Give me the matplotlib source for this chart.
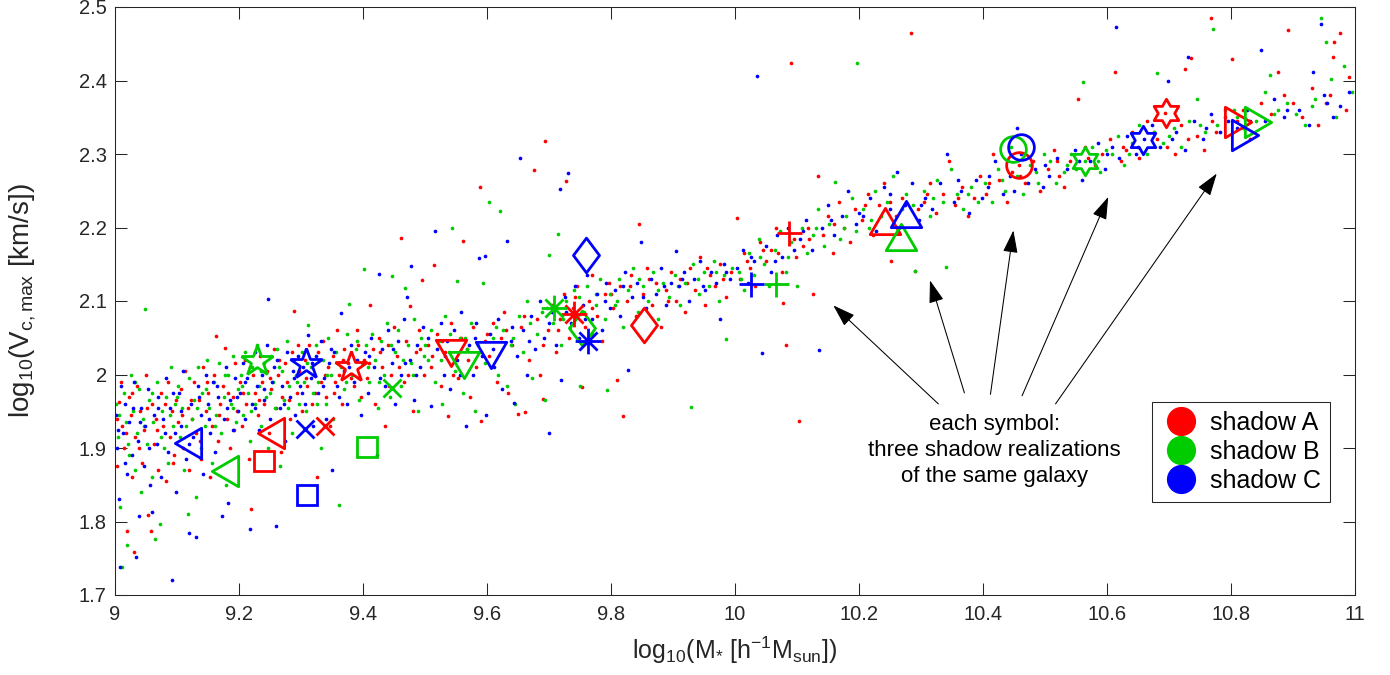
import numpy as np
import matplotlib
matplotlib.use('Agg')
import matplotlib.pyplot as plt
from matplotlib.path import Path
from matplotlib.lines import Line2D
from matplotlib.ticker import FuncFormatter, FixedLocator

plt.rcParams['font.family'] = ['Liberation Sans', 'DejaVu Sans']
plt.rcParams['mathtext.fontset'] = 'custom'
plt.rcParams['mathtext.rm'] = 'Liberation Sans'
plt.rcParams['mathtext.it'] = 'Liberation Sans'
plt.rcParams['mathtext.bf'] = 'Liberation Sans:bold'

# ---------------- data ----------------
x_ticks = [9, 9.2, 9.4, 9.6, 9.8, 10, 10.2, 10.4, 10.6, 10.8, 11]
y_ticks = [1.7, 1.8, 1.9, 2.0, 2.1, 2.2, 2.3, 2.4, 2.5]
shadow_labels = ['shadow A', 'shadow B', 'shadow C']

red_dots = [
 (9.003,1.875),(9.006,1.962),(9.010,1.99),(9.012,1.93),(9.015,1.9),(9.019,1.787),(9.022,1.97),(9.025,1.945),(9.028,1.86),(9.030,1.758),
 (9.033,1.915),(9.036,1.985),(9.040,1.95),(9.043,1.88),(9.047,1.925),(9.050,2.0),(9.054,1.809),(9.058,1.787),(9.06,1.96),(9.063,1.905),
 (9.066,1.94),(9.07,1.87),(9.074,1.975),(9.078,1.93),(9.082,1.855),(9.085,1.99),(9.088,1.915),(9.092,1.95),(9.095,1.89),(9.098,1.965),
 (9.102,1.935),(9.106,1.98),(9.11,1.9),(9.113,2.005),(9.117,1.955),(9.12,1.87),(9.124,1.94),(9.128,1.99),(9.131,1.92),(9.135,1.965),
 (9.139,1.885),(9.142,2.01),(9.146,1.95),(9.15,1.975),(9.153,1.86),(9.157,1.93),(9.16,2.0),(9.163,2.053),(9.166,1.91),(9.17,1.96),
 (9.174,1.985),(9.177,2.036),(9.181,1.94),(9.185,1.9),(9.19,1.97),(9.194,2.015),(9.197,1.95),
 (9.202,1.99),(9.205,1.93),(9.209,2.02),(9.212,1.96),(9.216,1.885),(9.22,1.817),(9.222,2.0),(9.226,1.975),(9.23,1.945),(9.234,2.025),
 (9.237,1.99),(9.241,1.96),(9.245,2.005),(9.248,1.92),(9.252,1.98),(9.256,2.035),(9.26,1.955),(9.263,2.0),(9.267,1.895),(9.27,1.97),
 (9.274,2.015),(9.278,1.99),(9.282,1.94),(9.286,2.03),(9.289,2.086),(9.293,1.975),(9.297,2.005),
 (9.302,1.95),(9.306,2.02),(9.31,1.985),(9.313,2.04),(9.317,1.96),(9.321,2.0),(9.325,1.86),(9.328,2.03),(9.332,1.99),(9.336,2.045),
 (9.34,1.97),(9.343,2.01),(9.347,1.93),(9.351,2.025),(9.355,1.99),(9.358,2.06),(9.362,2.0),(9.366,1.96),(9.37,2.035),(9.375,2.015),
 (9.385,1.985),(9.392,2.04),(9.397,1.97),
 (9.402,2.02),(9.407,1.995),(9.412,2.095),(9.416,2.035),(9.42,1.96),(9.425,2.05),(9.43,2.01),(9.435,1.93),(9.44,2.04),(9.445,2.0),
 (9.45,2.065),(9.455,2.025),(9.462,2.186),(9.466,1.99),(9.47,2.045),(9.476,2.093),(9.48,1.95),(9.485,2.03),(9.49,2.06),(9.495,2.128),(9.498,2.0),
 (9.505,2.04),(9.51,2.01),(9.515,2.1485),(9.52,2.055),(9.526,1.985),(9.532,2.03),(9.537,1.9436),(9.542,2.07),(9.548,2.02),(9.553,1.995),
 (9.558,2.05),(9.562,2.181),(9.567,2.035),(9.573,1.97),(9.578,2.065),(9.583,2.01),(9.589,2.255),(9.591,1.937),(9.596,2.045),
 (9.603,2.025),(9.61,2.07),(9.616,1.99),(9.622,2.05),(9.628,2.085),(9.634,1.975),(9.641,2.04),(9.65,1.9465),(9.655,2.065),(9.661,1.9496),
 (9.667,2.02),(9.675,2.278),(9.68,2.075),(9.686,2.0),(9.691,1.9668),(9.694,2.3174),(9.698,2.06),
 (9.705,2.095),(9.712,2.03),(9.718,2.075),(9.724,2.11),(9.728,2.2636),(9.733,2.05),(9.739,2.09),(9.745,2.12),(9.753,1.983),(9.758,2.065),
 (9.764,2.1),(9.77,2.135),(9.778,2.08),(9.785,2.045),(9.79,2.11),(9.797,2.125),
 (9.803,2.09),(9.809,1.992),(9.815,2.12),(9.82,1.943),(9.826,2.1),(9.833,2.135),(9.84,2.08),(9.845,2.2044),(9.851,2.11),(9.858,2.145),
 (9.866,2.095),(9.873,2.125),(9.881,2.065),(9.889,2.115),(9.896,2.14),
 (9.905,2.1),(9.912,2.13),(9.92,2.085),(9.928,2.145),(9.936,2.115),(9.944,2.16),(9.952,2.095),(9.96,2.135),(9.968,2.12),(9.976,2.15),
 (9.985,2.105),(9.993,2.14),(10.003,2.213),
 (10.008,2.13),(10.015,2.165),(10.024,2.145),(10.032,2.12),(10.04,2.18),(10.05,2.155),(10.058,2.17),(10.066,2.2),(10.075,2.14),(10.078,2.097),
 (10.083,2.0405),(10.09,2.424),(10.095,2.185),(10.098,2.16),
 (10.103,1.937),(10.11,2.175),(10.118,2.2),(10.125,2.109),(10.134,2.27),(10.142,2.19),(10.15,2.215),(10.158,2.165),(10.167,2.235),(10.176,2.2),
 (10.185,2.18),(10.194,2.225),
 (10.205,2.21),(10.214,2.245),(10.222,2.19),(10.232,2.23),(10.241,2.26),(10.252,2.154),(10.26,2.215),(10.27,2.24),(10.284,2.464),(10.29,2.141),(10.295,2.225),
 (10.305,2.235),(10.315,2.26),(10.324,2.22),(10.335,2.245),(10.345,2.29),(10.355,2.23),(10.366,2.255),(10.375,2.215),(10.386,2.24),(10.395,2.27),
 (10.405,2.245),(10.416,2.3),(10.426,2.265),(10.438,2.235),(10.447,2.275),(10.458,2.2847),(10.468,2.26),(10.48,2.29),(10.492,2.25),
 (10.505,2.28),(10.515,2.305),(10.523,2.27),(10.531,2.255),(10.553,2.375),(10.54,2.29),(10.565,2.31),(10.58,2.285),(10.592,2.3),
 (10.605,2.32),(10.613,2.411),(10.622,2.29),(10.63,2.305),(10.64,2.33),(10.652,2.295),(10.665,2.345),(10.68,2.32),(10.694,2.356),(10.697,2.31),
 (10.71,2.3),(10.72,2.34),(10.726,2.415),(10.735,2.4305),(10.745,2.325),(10.757,2.305),(10.767,2.4846),(10.775,2.33),(10.79,2.35),
 (10.802,2.4288),(10.81,2.345),(10.83,2.32),(10.848,2.37),(10.865,2.355),(10.876,2.412),(10.892,2.4687),(10.885,2.38),
 (10.915,2.35),(10.93,2.39),(10.94,2.34),(10.953,2.37),(10.965,2.4315),(10.966,2.452),(10.975,2.465),(10.991,2.405),(10.985,2.36),
 (9.004,1.94),(9.018,1.92),(9.027,1.975),(9.038,1.9),(9.052,1.955),(9.068,1.925),(9.08,1.96),(9.093,1.88),(9.108,1.945),(9.122,1.965),
 (9.137,1.91),(9.148,1.99),(9.168,1.945),(9.183,1.975),(9.192,1.925),(9.207,1.975),(9.218,2.01),(9.232,1.965),(9.25,1.995),(9.265,2.02),
 (9.28,1.965),(9.295,2.04),(9.308,1.995),(9.323,1.975),(9.338,2.0),(9.353,1.975),(9.368,2.02),(9.38,1.995),(9.39,2.06),(9.41,2.015),
 (9.428,2.03),(9.442,1.985),(9.458,2.01),(9.473,2.0),(9.492,2.035),(9.512,2.025),(9.528,2.045),(9.545,2.0),(9.57,2.02),(9.6,2.055),
 (9.63,2.06),(9.66,2.08),(9.69,2.04),(9.715,2.06),(9.742,2.105),(9.77,2.09),(9.8,2.11),(9.83,2.12),(9.862,2.13),(9.892,2.1),
 (9.922,2.125),(9.955,2.145),(9.98,2.13),(10.02,2.155),(10.045,2.17),(10.07,2.165),(10.12,2.185),(10.16,2.205),(10.21,2.23),(10.25,2.235),
 (10.31,2.245),(10.36,2.24),(10.41,2.26),(10.46,2.27),(10.52,2.29),(10.57,2.295),(10.625,2.31),(10.675,2.33),(10.73,2.32),(10.77,2.345),
 (10.82,2.36),(10.9,2.37),(10.96,2.38),
]

green_dots = [
 (9.002,1.96),(9.005,1.915),(9.008,1.82),(9.011,1.7375),(9.014,1.975),(9.017,1.935),(9.019,1.768),(9.023,1.89),(9.026,2.0),(9.029,1.95),
 (9.032,1.87),(9.035,1.92),(9.039,1.98),(9.042,1.84),(9.045,1.94),(9.048,2.089),(9.052,1.905),(9.055,1.965),(9.059,1.86),(9.062,1.935),
 (9.065,1.776),(9.068,1.99),(9.072,1.797),(9.075,1.95),(9.079,1.9),(9.083,1.97),(9.086,1.88),(9.09,2.01),(9.094,1.93),(9.097,1.96),
 (9.101,1.985),(9.105,1.915),(9.108,1.955),(9.112,1.87),(9.117,1.81),(9.12,1.995),(9.124,1.94),(9.127,1.965),(9.13,1.8338),(9.134,2.01),
 (9.138,1.9),(9.141,1.975),(9.145,1.93),(9.149,2.02),(9.152,1.955),(9.156,1.88),(9.159,1.99),(9.163,1.945),(9.167,2.015),(9.171,1.92),
 (9.175,1.97),(9.179,1.85),(9.183,2.0),(9.187,1.96),(9.191,2.025),(9.195,1.935),(9.198,1.98),
 (9.203,2.0),(9.207,1.945),(9.21,2.03),(9.214,1.975),(9.218,1.91),(9.221,2.01),(9.225,1.96),(9.229,2.04),(9.232,1.985),(9.236,1.93),
 (9.24,2.015),(9.243,1.97),(9.247,1.9),(9.251,2.025),(9.255,1.99),(9.258,1.955),(9.262,2.035),(9.266,1.875),(9.27,2.005),(9.273,1.965),
 (9.277,2.045),(9.281,1.985),(9.285,1.92),(9.289,2.02),(9.292,2.0),(9.296,1.96),
 (9.301,2.03),(9.305,1.99),(9.308,1.95),(9.312,2.067),(9.316,2.01),(9.32,1.975),(9.324,2.04),(9.328,1.99),(9.332,1.9),(9.336,2.02),
 (9.34,1.96),(9.344,2.05),(9.348,2.0),(9.352,1.94),(9.356,2.03),(9.361,1.8224),(9.365,2.01),(9.37,1.98),(9.374,2.055),(9.378,2.096),
 (9.383,2.0),(9.388,2.035),(9.393,1.965),(9.398,2.015),
 (9.401,2.144),(9.405,2.04),(9.41,1.99),(9.414,2.055),(9.419,2.02),(9.424,1.955),(9.429,2.045),(9.434,2.0),(9.439,2.07),(9.443,1.97),
 (9.447,2.134),(9.452,2.03),(9.457,2.06),(9.462,1.985),(9.467,2.118),(9.472,2.04),(9.477,2.015),(9.483,2.075),(9.488,1.95),(9.494,2.05),(9.499,2.025),
 (9.505,2.02),(9.51,2.06),(9.516,1.99),(9.522,2.045),(9.527,1.96),(9.533,2.08),(9.538,2.03),(9.543,2.199),(9.548,2.005),(9.551,2.127),
 (9.556,2.05),(9.562,1.975),(9.568,2.035),(9.574,2.07),(9.58,1.95),(9.586,2.04),(9.593,2.125),(9.597,2.015),
 (9.604,2.235),(9.61,2.05),(9.617,2.0),(9.621,2.2218),(9.626,2.06),(9.632,1.985),(9.638,2.04),(9.645,1.96),(9.652,2.08),(9.658,2.03),
 (9.665,2.1),(9.672,1.995),(9.68,2.055),(9.688,2.085),(9.694,1.965),(9.7,2.162),
 (9.706,2.07),(9.714,2.191),(9.72,2.04),(9.727,2.1),(9.734,2.065),(9.74,2.115),(9.75,1.985),(9.756,2.085),(9.762,2.12),(9.769,2.055),
 (9.776,2.095),(9.783,2.13),(9.79,2.075),(9.794,1.979),(9.798,2.11),
 (9.806,2.095),(9.813,2.13),(9.82,2.065),(9.828,2.115),(9.836,2.145),(9.843,2.085),(9.851,2.12),(9.86,2.1),(9.868,2.14),(9.876,2.075),
 (9.884,2.125),(9.893,2.105),
 (9.903,2.135),(9.911,2.095),(9.919,2.125),(9.929,1.9564),(9.933,2.15),(9.942,2.11),(9.95,2.14),(9.958,2.12),(9.966,2.155),(9.974,2.1),
 (9.982,2.135),(9.986,2.048),(9.995,2.145),
 (10.006,2.14),(10.014,2.115),(10.022,2.165),(10.03,2.135),(10.038,2.185),(10.047,2.15),(10.055,2.12),(10.064,2.17),(10.073,2.195),(10.082,2.14),
 (10.09,2.18),(10.1,2.121),
 (10.108,2.2),(10.116,2.165),(10.125,2.19),(10.134,2.225),(10.143,2.175),(10.152,2.205),(10.161,2.262),(10.17,2.185),(10.179,2.215),(10.188,2.24),
 (10.197,2.424),(10.195,2.195),
 (10.207,2.225),(10.216,2.2),(10.225,2.25),(10.235,2.215),(10.245,2.235),(10.255,2.27),(10.265,2.2),(10.275,2.245),(10.29,2.141),(10.287,2.23),
 (10.305,2.25),(10.315,2.215),(10.325,2.265),(10.335,2.235),(10.341,2.146),(10.348,2.28),(10.358,2.245),(10.368,2.225),(10.38,2.255),(10.392,2.235),
 (10.404,2.26),(10.414,2.235),(10.424,2.28),(10.435,2.25),(10.445,2.31),(10.455,2.27),(10.465,2.245),(10.476,2.285),(10.488,2.26),(10.498,2.3),
 (10.508,2.29),(10.518,2.26),(10.53,2.275),(10.542,2.3),(10.561,2.398),(10.55,2.28),(10.564,2.29),(10.576,2.31),(10.588,2.275),(10.598,2.305),
 (10.608,2.3),(10.618,2.325),(10.628,2.285),(10.64,2.315),(10.652,2.34),(10.664,2.3),(10.676,2.33),(10.681,2.4097),(10.69,2.315),
 (10.708,2.335),(10.72,2.31),(10.732,2.345),(10.745,2.375),(10.758,2.33),(10.771,2.4705),(10.778,2.34),(10.79,2.36),
 (10.805,2.36),(10.82,2.335),(10.84,2.345),(10.855,2.385),(10.863,2.408),(10.875,2.36),(10.89,2.37),
 (10.905,2.355),(10.92,2.34),(10.935,2.375),(10.945,2.4846),(10.953,2.452),(10.961,2.4025),(10.97,2.35),(10.982,2.42),(10.995,2.385),
 (9.007,1.945),(9.021,1.905),(9.033,1.99),(9.047,1.93),(9.06,1.975),(9.074,1.915),(9.088,1.945),(9.1,1.97),(9.115,1.93),(9.132,1.955),
 (9.147,1.98),(9.161,1.93),(9.177,2.0),(9.19,1.955),(9.205,1.985),(9.22,1.95),(9.235,2.005),(9.25,1.975),(9.264,2.01),(9.279,1.955),
 (9.294,1.99),(9.31,2.015),(9.326,1.96),(9.342,2.0),(9.358,2.015),(9.372,1.99),(9.39,2.045),(9.408,2.01),(9.425,1.99),(9.445,2.04),
 (9.465,2.02),(9.48,2.0),(9.5,2.04),(9.525,2.02),(9.54,2.055),(9.565,2.05),(9.59,2.03),(9.615,2.065),(9.642,2.05),(9.67,2.07),
 (9.697,2.09),(9.723,2.075),(9.748,2.105),(9.775,2.11),(9.81,2.1),(9.845,2.13),(9.875,2.115),(9.908,2.12),(9.94,2.13),(9.97,2.14),
 (10.01,2.13),(10.04,2.16),(10.085,2.16),(10.13,2.2),(10.175,2.2),(10.22,2.21),(10.27,2.225),(10.32,2.24),(10.375,2.245),(10.43,2.265),
 (10.485,2.275),(10.535,2.285),(10.585,2.29),(10.635,2.3),(10.7,2.325),(10.75,2.34),(10.81,2.35),(10.87,2.355),(10.93,2.365),
]

blue_dots = [
 (9.001,1.945),(9.004,1.9),(9.006,1.83),(9.008,1.738),(9.01,1.985),(9.013,1.92),(9.016,1.96),(9.02,1.865),(9.023,1.935),(9.027,1.89),
 (9.03,1.99),(9.034,1.752),(9.037,1.91),(9.039,1.807),(9.042,1.955),(9.046,1.875),(9.049,1.93),(9.053,1.98),(9.056,1.85),(9.059,1.8134),
 (9.063,1.945),(9.067,1.905),(9.07,1.97),(9.074,1.86),(9.078,1.94),(9.082,1.995),(9.086,1.895),(9.089,1.955),(9.092,1.7207),(9.096,1.92),(9.098,1.8397),
 (9.103,1.975),(9.107,1.93),(9.11,2.005),(9.114,1.885),(9.119,1.784),(9.122,1.96),(9.126,1.915),(9.131,1.7793),(9.134,1.985),(9.138,1.945),
 (9.142,1.865),(9.146,2.0),(9.15,1.96),(9.154,1.92),(9.158,1.99),(9.162,1.895),(9.166,1.97),(9.172,1.808),(9.175,1.94),(9.179,2.01),
 (9.182,1.8247),(9.186,1.965),(9.19,1.925),(9.194,1.995),(9.198,1.95),
 (9.202,1.975),(9.206,2.015),(9.21,1.94),(9.213,1.995),(9.217,1.79),(9.221,1.96),(9.225,2.03),(9.229,1.985),(9.233,1.925),(9.237,2.0),
 (9.241,1.965),(9.245,2.04),(9.246,2.103),(9.25,1.94),(9.254,1.99),(9.259,1.7943),(9.262,2.02),(9.266,1.955),(9.27,1.985),(9.274,1.91),
 (9.278,2.03),(9.282,1.97),(9.287,2.005),(9.291,1.945),(9.295,2.025),(9.299,1.985),
 (9.303,2.01),(9.307,1.96),(9.312,2.054),(9.316,1.995),(9.32,1.93),(9.324,2.025),(9.328,1.975),(9.333,2.045),(9.337,1.995),(9.341,1.94),
 (9.345,2.015),(9.35,1.87),(9.354,2.03),(9.358,1.985),(9.365,2.083),(9.369,2.005),(9.374,1.96),(9.38,2.04),(9.385,1.99),(9.39,2.02),(9.396,1.945),
 (9.403,2.03),(9.408,1.975),(9.413,2.05),(9.418,2.01),(9.423,1.89),(9.426,2.137),(9.43,2.035),(9.436,1.985),(9.441,2.06),(9.446,2.015),
 (9.451,1.96),(9.456,2.045),(9.461,2.0),(9.466,2.075),(9.471,2.105),(9.475,2.02),(9.478,2.148),(9.482,1.965),(9.487,2.04),(9.492,2.01),(9.497,2.065),
 (9.51,1.957),(9.516,2.1946),(9.52,2.035),(9.525,2.07),(9.53,2.0),(9.536,2.045),(9.541,1.98),(9.547,2.06),(9.552,2.02),(9.558,2.085),
 (9.566,1.93),(9.571,2.04),(9.577,2.0),(9.583,2.07),(9.587,2.159),(9.592,2.025),(9.597,2.161),(9.598,1.945),
 (9.605,2.055),(9.611,2.01),(9.617,2.075),(9.624,1.98),(9.633,2.181),(9.638,2.045),(9.644,1.9615),(9.648,2.025),(9.653,2.2952),(9.658,2.06),
 (9.664,2.0),(9.671,2.08),(9.678,2.035),(9.685,2.1),(9.692,2.05),(9.7,1.92),
 (9.705,2.085),(9.711,2.04),(9.718,2.253),(9.719,1.993),(9.725,2.105),(9.73,2.2743),(9.735,2.07),(9.742,2.12),(9.748,2.05),(9.755,2.095),
 (9.762,2.135),(9.77,2.075),(9.777,2.11),(9.785,2.06),(9.792,2.125),(9.799,2.09),
 (9.807,2.115),(9.814,2.08),(9.822,2.14),(9.828,2.0068),(9.834,2.105),(9.842,2.125),(9.849,2.1797),(9.856,2.09),(9.864,2.13),(9.872,2.11),
 (9.88,2.145),(9.888,2.095),(9.897,2.125),
 (9.905,2.1676),(9.909,2.12),(9.917,2.14),(9.925,2.1),(9.934,2.13),(9.943,2.155),(9.952,2.115),(9.961,2.14),(9.97,2.125),(9.976,2.0757),
 (9.983,2.15),(9.992,2.13),
 (10.004,2.145),(10.013,2.17),(10.021,2.125),(10.03,2.155),(10.035,2.406),(10.044,2.0296),(10.05,2.175),(10.058,2.14),(10.067,2.19),(10.076,2.16),
 (10.085,2.2),(10.095,2.17),
 (10.105,2.185),(10.115,2.21),(10.124,2.17),(10.136,2.0327),(10.14,2.2),(10.15,2.23),(10.16,2.19),(10.172,2.215),(10.183,2.25),(10.195,2.205),
 (10.206,2.215),(10.217,2.24),(10.228,2.195),(10.24,2.255),(10.25,2.225),(10.262,2.275),(10.274,2.23),(10.285,2.26),(10.296,2.21),
 (10.306,2.24),(10.318,2.225),(10.33,2.26),(10.342,2.3),(10.353,2.235),(10.365,2.25),(10.377,2.22),(10.389,2.265),(10.398,2.24),
 (10.408,2.255),(10.42,2.29),(10.432,2.245),(10.443,2.27),(10.455,2.335),(10.462,2.3),(10.472,2.26),(10.484,2.28),(10.496,2.255),
 (10.507,2.27),(10.52,2.295),(10.535,2.28),(10.548,2.305),(10.56,2.265),(10.572,2.29),(10.585,2.315),(10.596,2.28),
 (10.608,2.31),(10.615,2.4732),(10.62,2.295),(10.633,2.325),(10.646,2.3),(10.66,2.32),(10.672,2.34),(10.685,2.31),(10.699,2.399),
 (10.712,2.33),(10.725,2.305),(10.731,2.4315),(10.74,2.345),(10.755,2.32),(10.768,2.355),(10.782,2.33),(10.795,2.345),
 (10.81,2.335),(10.826,2.36),(10.849,2.441),(10.855,2.345),(10.87,2.375),(10.885,2.35),
 (10.91,2.36),(10.925,2.34),(10.933,2.411),(10.945,2.477),(10.95,2.38),(10.965,2.35),(10.975,2.365),(10.991,2.3838),
 (9.005,1.925),(9.016,1.88),(9.029,1.955),(9.041,1.935),(9.055,1.9),(9.069,1.955),(9.081,1.92),(9.094,1.975),(9.106,1.95),(9.12,1.905),
 (9.136,1.97),(9.152,1.94),(9.164,1.985),(9.18,1.955),(9.196,1.97),(9.21,1.99),(9.226,1.955),(9.24,1.98),(9.256,2.01),(9.272,1.96),
 (9.288,1.995),(9.302,1.975),(9.318,2.015),(9.335,1.985),(9.348,2.035),(9.362,1.97),(9.377,2.01),(9.393,1.995),(9.41,2.025),(9.428,1.995),
 (9.448,2.035),(9.468,2.015),(9.485,2.0),(9.505,2.05),(9.532,2.025),(9.556,2.0),(9.58,2.05),(9.61,2.035),(9.64,2.065),(9.668,2.045),
 (9.7,2.07),(9.728,2.085),(9.758,2.075),(9.79,2.1),(9.82,2.12),(9.852,2.105),(9.885,2.12),(9.915,2.13),(9.948,2.12),(9.985,2.14),
 (10.025,2.16),(10.065,2.155),(10.11,2.195),(10.155,2.21),(10.2,2.22),(10.25,2.245),(10.3,2.23),(10.36,2.265),(10.41,2.27),(10.45,2.25),
 (10.5,2.285),(10.555,2.29),(10.6,2.3),(10.65,2.31),(10.705,2.32),(10.76,2.335),(10.83,2.345),(10.89,2.36),(10.955,2.37),
]

# twelve highlighted galaxies, each seen in three shadow realizations
galaxy_symbols = ['pentagram', 'hexagram', 'x', '<', '>', '^', 'v',
                  'square', 'diamond', 'asterisk', '+', 'circle']
shadowA_x = [9.380, 10.6946, 9.339, 9.251, 10.811, 10.2425, 9.5417, 9.240, 9.8538, 9.741, 10.0876, 10.458]
shadowA_y = [2.010, 2.356, 1.9305, 1.9206, 2.3438, 2.2087, 2.0296, 1.8824, 2.0668, 2.0827, 2.1925, 2.2847]
shadowB_x = [9.2295, 10.5645, 9.447, 9.178, 10.844, 10.2683, 9.5635, 9.4067, 9.7527, 9.7086, 10.066, 10.4479]
shadowB_y = [2.0177, 2.2902, 1.982, 1.869, 2.343, 2.1871, 2.013, 1.9015, 2.0631, 2.0909, 2.1226, 2.3065]
shadowC_x = [9.3076, 10.6586, 9.306, 9.118, 10.8218, 10.2763, 9.607, 9.310, 9.7591, 9.7634, 10.0258, 10.4613]
shadowC_y = [2.0146, 2.3188, 1.926, 1.907, 2.326, 2.2177, 2.0259, 1.8356, 2.1621, 2.0454, 2.1226, 2.3097]

annotation_text = 'each symbol:\nthree shadow realizations\nof the same galaxy'
arrow_heads = [(10.1586, 2.094), (10.3145, 2.128), (10.449, 2.196), (10.602, 2.2416), (10.777, 2.2734)]
arrow_tails = [(10.328, 1.960), (10.370, 1.975), (10.412, 1.973), (10.463, 1.971), (10.517, 1.960)]

# ---------------- styles ----------------
colors = [(1, 0, 0), (0, 0.8, 0), (0, 0, 1)]

def tri(angle):
    v = np.array([(0, 0.86), (-1, -0.86), (1, -0.86), (0, 0.86)])
    a = np.deg2rad(angle)
    R = np.array([[np.cos(a), -np.sin(a)], [np.sin(a), np.cos(a)]])
    return Path(v @ R.T, [Path.MOVETO, Path.LINETO, Path.LINETO, Path.CLOSEPOLY])

diamond = Path([(0, 1), (0.75, 0), (0, -1), (-0.75, 0), (0, 1)],
               [Path.MOVETO, Path.LINETO, Path.LINETO, Path.LINETO, Path.CLOSEPOLY])
hexagram = Path.unit_regular_star(6, 1 / np.sqrt(3))
ast_v, ast_c = [], []
for ang in [0, 45, 90, 135]:
    a = np.deg2rad(ang)
    ast_v += [(-np.cos(a), -np.sin(a)), (np.cos(a), np.sin(a))]
    ast_c += [Path.MOVETO, Path.LINETO]
asterisk = Path(ast_v, ast_c)

symbol_style = {
    'pentagram': ('*', 23.5),
    'hexagram': (hexagram, 20.5),
    'x': ('x', 13),
    '<': (tri(90), 22),
    '>': (tri(-90), 22),
    '^': (tri(0), 22),
    'v': (tri(180), 22),
    'square': ('s', 15),
    'diamond': (diamond, 25),
    'asterisk': (asterisk, 18.5),
    '+': ('+', 18),
    'circle': ('o', 18.5),
}

# ---------------- figure ----------------
fig = plt.figure(figsize=(13.9, 6.75), dpi=100)
ax = fig.add_axes([115 / 1390, 1 - 595 / 675, 1240 / 1390, 588 / 675])

for dots, col in zip([red_dots, green_dots, blue_dots], colors):
    d = np.array(dots)
    ax.scatter(d[:, 0], d[:, 1], s=7, color=col, marker='o', linewidths=0, zorder=2)

for i, name in enumerate(galaxy_symbols):
    mk, ms = symbol_style[name]
    for xs, ys, col in zip([shadowA_x, shadowB_x, shadowC_x],
                           [shadowA_y, shadowB_y, shadowC_y], colors):
        ax.plot([xs[i]], [ys[i]], linestyle='none', marker=mk, markersize=ms,
                markerfacecolor='none', markeredgecolor=col, markeredgewidth=2.0,
                zorder=3)

for head, tail in zip(arrow_heads, arrow_tails):
    ax.annotate('', xy=head, xytext=tail,
                arrowprops=dict(arrowstyle='-|>,head_length=1.0,head_width=0.33',
                                color='k', lw=0.75, shrinkA=0, shrinkB=0,
                                mutation_scale=14), zorder=4)

ax.text(10.419, 1.8965, annotation_text, ha='center', va='center',
        fontsize=16, multialignment='center', linespacing=1.32, color='k', zorder=5)

ax.set_xlim(9, 11)
ax.set_ylim(1.7, 2.5)
ax.xaxis.set_major_locator(FixedLocator(x_ticks))
ax.yaxis.set_major_locator(FixedLocator(y_ticks))
fmt = FuncFormatter(lambda v, p: f'{v:g}')
ax.xaxis.set_major_formatter(fmt)
ax.yaxis.set_major_formatter(fmt)
ax.tick_params(direction='in', length=8.9, width=0.75, top=True, right=True,
               colors='0.15', labelsize=14.5)
ax.tick_params(axis='x', pad=7)
ax.tick_params(axis='y', pad=6)
for sp in ax.spines.values():
    sp.set_color('0.15')
    sp.set_linewidth(0.75)

ax.set_xlabel(r'$\mathregular{log_{10}(M_{*}\ [h^{-1}M_{sun}])}$', fontsize=18, color='0.15')
ax.set_ylabel(r'$\mathregular{log_{10}(V_{c,max}\ [km/s])}$', fontsize=20, color='0.15')
ax.xaxis.set_label_coords(0.5, -0.068)
ax.yaxis.set_label_coords(-0.062, 0.5)

handles = [Line2D([], [], linestyle='none', marker='o', markersize=20,
                  markerfacecolor=c, markeredgecolor=c) for c in colors]
leg = ax.legend(handles, shadow_labels, loc='lower right',
                bbox_to_anchor=(0.9798, 0.1587), borderaxespad=0,
                fontsize=18, frameon=True, fancybox=False, edgecolor='0.15',
                framealpha=1, handlelength=1.6, handletextpad=0.36,
                labelspacing=0.2, borderpad=0.35)
leg.get_frame().set_linewidth(0.75)
leg.set_zorder(6)

fig.savefig('out.png', dpi=100)
